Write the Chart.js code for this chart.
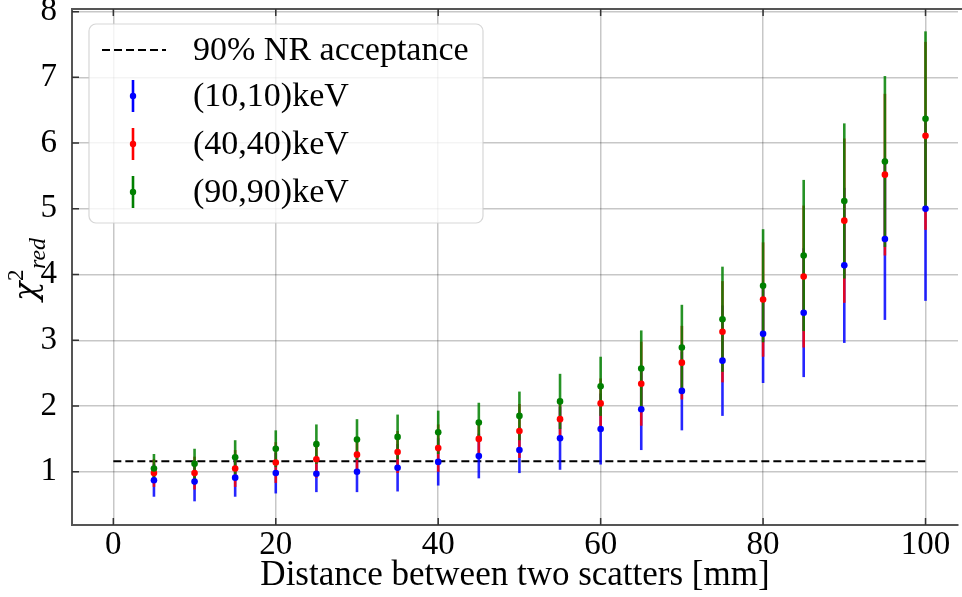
<!DOCTYPE html>
<html>
<head>
<meta charset="utf-8">
<script src="https://cdn.jsdelivr.net/npm/chart.js@4.4.1/dist/chart.umd.min.js"></script>
<style>
  html, body { margin: 0; padding: 0; background: #fff; overflow: hidden; }
</style>
</head>
<body>
<canvas id="chart" width="962" height="597"></canvas>
<script>
// distance between the two scatters, mm
const distances = [5, 10, 15, 20, 25, 30, 35, 40, 45, 50, 55, 60, 65, 70, 75, 80, 85, 90, 95, 100];

const chi10 = [0.87, 0.85, 0.91, 0.98, 0.97, 1.00, 1.06, 1.15, 1.24, 1.33, 1.51, 1.65, 1.95, 2.23, 2.69, 3.10, 3.42, 4.14, 4.54, 5.00];
const err10 = [0.25, 0.30, 0.29, 0.31, 0.28, 0.31, 0.36, 0.36, 0.34, 0.35, 0.48, 0.54, 0.62, 0.60, 0.84, 0.75, 0.98, 1.18, 1.23, 1.40];

const chi40 = [0.98, 0.98, 1.05, 1.14, 1.19, 1.26, 1.30, 1.36, 1.50, 1.62, 1.80, 2.04, 2.34, 2.66, 3.13, 3.62, 3.97, 4.82, 5.52, 6.11];
const err40 = [0.21, 0.25, 0.28, 0.31, 0.28, 0.26, 0.32, 0.36, 0.26, 0.41, 0.31, 0.38, 0.64, 0.56, 0.77, 0.87, 1.08, 1.25, 1.23, 1.43];

const chi90 = [1.05, 1.12, 1.22, 1.35, 1.42, 1.49, 1.53, 1.60, 1.75, 1.85, 2.07, 2.30, 2.57, 2.89, 3.32, 3.83, 4.29, 5.12, 5.72, 6.37];
const err90 = [0.22, 0.23, 0.26, 0.28, 0.30, 0.31, 0.34, 0.33, 0.30, 0.37, 0.42, 0.45, 0.58, 0.65, 0.80, 0.86, 1.15, 1.18, 1.30, 1.33];

// 90% NR acceptance level
const nrX = [0, 100];
const nrY = [1.16, 1.16];

const xTicks = [0, 20, 40, 60, 80, 100];
const yTicks = [1, 2, 3, 4, 5, 6, 7, 8];

const serif = "'Liberation Serif', 'Times New Roman', serif";

function points(xs, ys, errs) {
  return xs.map((x, i) => ({ x: x, y: ys[i], err: errs ? errs[i] : 0 }));
}

const errorBars = {
  id: "errorBars",
  afterDatasetDraw(chart, args) {
    // bars go right above the dashed line, markers are drawn after them
    if (args.index !== 0) return;
    const ctx = chart.ctx;
    const xs = chart.scales.x, ys = chart.scales.y;
    ctx.save();
    ctx.globalAlpha = 0.85;
    ctx.lineWidth = 2.6;
    for (let d = 1; d < chart.data.datasets.length; d++) {
      const ds = chart.data.datasets[d];
      ctx.strokeStyle = ds.backgroundColor;
      ds.data.forEach(p => {
        const px = xs.getPixelForValue(p.x);
        ctx.beginPath();
        ctx.moveTo(px, ys.getPixelForValue(p.y - p.err));
        ctx.lineTo(px, ys.getPixelForValue(p.y + p.err));
        ctx.stroke();
      });
    }
    ctx.restore();
  }
};

const frame = {
  id: "frame",
  afterDraw(chart) {
    const ctx = chart.ctx;
    const a = chart.chartArea;
    const xs = chart.scales.x, ys = chart.scales.y;
    ctx.save();
    // top spine
    ctx.strokeStyle = "#555";
    ctx.lineWidth = 2;
    ctx.beginPath();
    ctx.moveTo(a.left - 1, a.top);
    ctx.lineTo(962, a.top);
    ctx.stroke();
    // inward ticks
    ctx.lineWidth = 1.5;
    ctx.strokeStyle = "#333";
    ctx.beginPath();
    xTicks.forEach(v => {
      const px = xs.getPixelForValue(v);
      ctx.moveTo(px, a.bottom); ctx.lineTo(px, a.bottom - 7);
      ctx.moveTo(px, a.top); ctx.lineTo(px, a.top + 7);
    });
    yTicks.forEach(v => {
      const py = ys.getPixelForValue(v);
      ctx.moveTo(a.left, py); ctx.lineTo(a.left + 7, py);
    });
    ctx.stroke();

    // y axis title: chi^2_red
    ctx.fillStyle = "#000";
    ctx.translate(36, 301);
    ctx.rotate(-Math.PI / 2);
    ctx.textBaseline = "alphabetic";
    ctx.textAlign = "left";
    ctx.font = "italic 32px 'DejaVu Serif', serif";
    ctx.fillText("χ", 0, 0);
    ctx.font = "23px " + serif;
    ctx.fillText("2", 20, -13);
    ctx.font = "italic 24px " + serif;
    ctx.fillText("red", 32, 9);
    ctx.restore();

    // legend
    ctx.save();
    const lx = 89, ly = 24, lw = 394, lh = 199, r = 7;
    ctx.beginPath();
    ctx.roundRect(lx, ly, lw, lh, r);
    ctx.fillStyle = "rgba(255,255,255,0.8)";
    ctx.fill();
    ctx.strokeStyle = "rgba(204,204,204,0.8)";
    ctx.lineWidth = 1.2;
    ctx.stroke();
    const rows = [50, 96, 144, 192];
    ctx.font = "34px " + serif;
    ctx.textBaseline = "middle";
    chart.data.datasets.forEach((ds, i) => {
      const y = rows[i];
      if (ds.borderDash) {
        ctx.strokeStyle = ds.borderColor;
        ctx.lineWidth = 2;
        ctx.setLineDash(ds.borderDash);
        ctx.beginPath();
        ctx.moveTo(102, y); ctx.lineTo(166, y);
        ctx.stroke();
        ctx.setLineDash([]);
      } else {
        ctx.strokeStyle = ds.backgroundColor;
        ctx.lineWidth = 2.6;
        ctx.beginPath();
        ctx.moveTo(133, y - 16); ctx.lineTo(133, y + 16);
        ctx.stroke();
        ctx.fillStyle = ds.backgroundColor;
        ctx.beginPath();
        ctx.arc(133, y, 3.2, 0, Math.PI * 2);
        ctx.fill();
      }
      ctx.fillStyle = "#000";
      ctx.fillText(ds.label, 193, y + 1);
    });
    ctx.restore();
  }
};

const config = {
  type: "scatter",
  data: {
    datasets: [
      {
        type: "line",
        label: "90% NR acceptance",
        data: points(nrX, nrY),
        borderColor: "#000",
        borderWidth: 2,
        borderDash: [8, 4],
        pointRadius: 0,
        order: 4
      },
      {
        label: "(10,10)keV",
        data: points(distances, chi10, err10),
        backgroundColor: "#0000ff",
        pointRadius: 3.3,
        borderWidth: 0,
        order: 3
      },
      {
        label: "(40,40)keV",
        data: points(distances, chi40, err40),
        backgroundColor: "#ff0000",
        pointRadius: 3.3,
        borderWidth: 0,
        order: 2
      },
      {
        label: "(90,90)keV",
        data: points(distances, chi90, err90),
        backgroundColor: "#008000",
        pointRadius: 3.3,
        borderWidth: 0,
        order: 1
      }
    ]
  },
  options: {
    responsive: false,
    animation: false,
    events: [],
    layout: { padding: { top: 9, left: 0, right: 0, bottom: 0 } },
    plugins: {
      legend: { display: false },
      tooltip: { enabled: false }
    },
    scales: {
      x: {
        type: "linear",
        min: -5.09,
        max: 104.0,
        afterBuildTicks: (scale) => { scale.ticks = xTicks.map(v => ({ value: v })); },
        afterFit: (scale) => { scale.height = 72; scale.paddingLeft = 0; scale.paddingRight = 0; },
        grid: { color: "rgba(0,0,0,0.22)", lineWidth: 1.5, drawTicks: false },
        border: { display: true, color: "#555", width: 2 },
        ticks: { color: "#000", padding: 1, font: { family: serif, size: 33 }, maxRotation: 0 },
        title: {
          display: true,
          text: "Distance between two scatters [mm]",
          color: "#000",
          font: { family: serif, size: 35 },
          padding: { top: 0, bottom: 0 }
        }
      },
      y: {
        type: "linear",
        min: 0.19,
        max: 8.04,
        afterBuildTicks: (scale) => { scale.ticks = yTicks.map(v => ({ value: v })); },
        afterFit: (scale) => { scale.width = 72; scale.paddingTop = 0; scale.paddingBottom = 0; },
        grid: { color: "rgba(0,0,0,0.22)", lineWidth: 1.5, drawTicks: false },
        border: { display: true, color: "#555", width: 2 },
        ticks: { color: "#000", padding: 15, font: { family: serif, size: 33 } }
      }
    }
  },
  plugins: [errorBars, frame]
};

new Chart(document.getElementById("chart"), config);
</script>
</body>
</html>
